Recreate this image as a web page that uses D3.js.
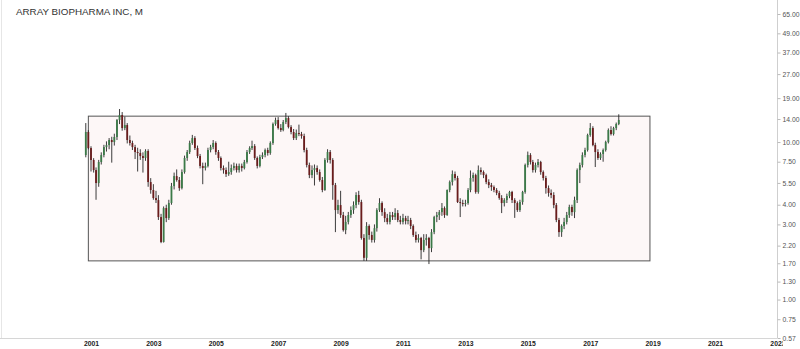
<!DOCTYPE html>
<html lang="en">
<head>
<meta charset="UTF-8" />
<title>ARRAY BIOPHARMA INC, M</title>
<style>
  body { margin: 0; background: #fff; }
  svg text { font-family: "Liberation Sans", Arial, sans-serif; }
</style>
</head>
<body>
<div id="chart"></div>
<script src="https://d3js.org/d3.v7.min.js"></script>
<script>
// monthly bars, the first one is Nov 2000, the last one Dec 2017
var firstMonth = new Date(2000, 10, 1);

var opens = [
  8.27, 11.58,
  9.16, 7.69, 6.64, 5.49, 7.47, 8.27, 9.29, 9.57, 10.30, 10.00, 10.76, 13.80,
  14.84, 12.27, 12.82, 10.30, 9.86, 9.29, 8.64, 8.52, 8.15, 7.92, 8.77, 5.57,
  4.96, 4.41, 4.28, 3.34, 2.32, 3.81, 3.29, 4.10, 5.25, 6.08, 5.74, 5.10,
  6.45, 7.92, 8.64, 9.86, 10.60, 9.16, 8.15, 7.05, 6.84, 7.05, 8.90, 9.29,
  9.86, 8.64, 7.92, 6.84, 6.64, 6.26, 6.45, 6.84, 7.05, 6.64, 7.05, 6.84,
  7.47, 8.64, 9.16, 9.43, 7.92, 7.05, 8.03, 8.27, 8.90, 8.52, 9.86, 13.02,
  13.80, 12.27, 11.92, 13.40, 14.20, 12.45, 11.58, 10.60, 11.41, 11.24, 10.92, 8.90,
  7.15, 6.17, 6.64, 6.84, 6.45, 5.74, 4.96, 7.69, 8.64, 7.69, 5.33, 3.70,
  3.98, 3.44, 2.76, 3.11, 3.44, 3.70, 3.98, 4.61, 4.16, 2.46, 1.84, 2.93,
  2.57, 2.39, 2.84, 3.70, 4.10, 3.59, 3.29, 3.11, 3.44, 3.34, 3.54, 3.20,
  3.11, 3.29, 3.15, 3.20, 2.93, 2.57, 2.39, 2.46, 2.06, 2.39, 2.46, 2.12,
  2.68, 3.34, 3.44, 3.59, 3.81, 3.44, 4.96, 5.57, 6.26, 5.91, 4.16, 4.10,
  4.04, 4.10, 4.96, 5.91, 6.17, 4.82, 6.64, 6.45, 6.17, 5.57, 5.33, 5.18,
  4.96, 4.75, 4.41, 4.10, 4.28, 4.54, 4.82, 4.28, 4.10, 3.70, 4.16, 4.82,
  7.15, 8.27, 7.47, 6.64, 7.15, 7.47, 6.45, 5.91, 5.10, 4.75, 4.61, 3.98,
  3.20, 2.68, 2.93, 3.11, 3.44, 3.87, 3.59, 4.28, 6.64, 7.15, 8.27, 8.90,
  11.08, 12.27, 9.57, 8.64, 7.92, 8.39, 8.90, 10.00, 11.92, 11.24, 12.27, 13.02
];

var highs = [
  13.2, 11.9,
  9.4, 7.9, 6.9, 7.7, 8.6, 9.6, 10.1, 10.6, 10.8, 11.3, 14.0, 16.2,
  15.5, 14.5, 13.2, 11.0, 10.2, 9.6, 9.2, 9.0, 8.6, 9.0, 9.0, 5.9,
  5.4, 4.9, 4.6, 3.5, 3.9, 4.0, 4.3, 5.5, 6.4, 6.7, 6.0, 6.7,
  8.2, 8.9, 10.2, 11.1, 10.9, 9.5, 8.4, 7.4, 7.4, 9.2, 9.6, 10.3,
  10.1, 8.9, 8.1, 7.1, 6.9, 7.5, 7.2, 7.4, 7.3, 7.3, 7.3, 7.7,
  8.9, 9.4, 10.2, 9.7, 8.1, 8.3, 8.6, 9.1, 9.2, 10.1, 13.3, 14.3,
  14.4, 13.0, 13.8, 15.3, 14.6, 12.8, 12.1, 12.0, 12.9, 11.6, 11.3, 9.2,
  7.4, 7.1, 7.2, 7.1, 6.7, 6.0, 7.9, 9.0, 8.9, 7.9, 5.5, 4.3,
  4.9, 3.6, 3.4, 3.6, 3.9, 4.2, 4.8, 4.9, 4.3, 2.6, 3.1, 3.0,
  2.7, 3.0, 3.8, 4.4, 4.2, 3.8, 3.5, 3.6, 3.6, 3.8, 3.7, 3.4,
  3.5, 3.4, 3.4, 3.3, 3.0, 2.7, 2.6, 2.5, 2.6, 2.6, 2.5, 2.8,
  3.4, 3.6, 3.7, 4.1, 3.9, 5.0, 5.7, 6.6, 6.5, 6.1, 4.4, 4.3,
  4.3, 5.1, 6.6, 6.4, 6.3, 7.1, 6.9, 6.6, 6.3, 5.8, 5.5, 5.3,
  5.1, 4.9, 4.6, 4.4, 4.7, 4.9, 4.9, 4.4, 4.2, 4.3, 4.9, 7.3,
  8.7, 8.5, 7.7, 7.4, 7.8, 7.6, 6.6, 6.1, 5.3, 5.0, 4.8, 4.1,
  3.3, 3.0, 3.3, 3.6, 4.0, 4.0, 4.5, 6.8, 7.4, 8.6, 9.2, 11.3,
  13.2, 12.6, 9.9, 9.0, 8.6, 9.1, 10.2, 12.2, 12.6, 12.5, 13.3, 15.0
];

var lows = [
  8.0, 9.0,
  6.5, 6.4, 4.3, 5.2, 7.2, 8.0, 8.7, 9.0, 7.4, 9.5, 10.3, 13.0,
  11.8, 11.9, 9.8, 9.5, 8.9, 7.8, 6.5, 7.7, 6.4, 7.6, 5.2, 4.7,
  4.3, 4.1, 3.2, 2.28, 2.3, 3.1, 3.2, 4.0, 5.0, 5.6, 4.9, 5.0,
  6.3, 7.6, 8.4, 9.6, 8.9, 7.9, 6.8, 5.4, 6.6, 6.9, 8.6, 9.0,
  8.3, 7.6, 6.6, 6.3, 6.0, 6.1, 6.2, 6.6, 6.4, 6.4, 6.5, 6.7,
  7.3, 8.4, 8.9, 7.7, 6.8, 6.9, 7.8, 8.0, 8.2, 8.3, 9.6, 12.7,
  12.0, 11.6, 11.7, 13.0, 12.2, 11.2, 10.3, 10.3, 10.9, 10.5, 8.6, 6.9,
  5.9, 5.9, 5.3, 6.2, 5.6, 4.8, 4.9, 7.4, 7.3, 4.3, 2.68, 3.5,
  3.3, 2.7, 2.6, 3.0, 3.3, 3.5, 3.8, 4.0, 2.4, 1.76, 1.76, 2.4,
  2.3, 2.3, 2.7, 3.6, 3.4, 3.1, 3.0, 3.0, 3.2, 3.2, 3.1, 3.0,
  3.0, 3.0, 3.0, 2.8, 2.5, 2.3, 2.3, 1.8, 2.0, 2.2, 1.68, 2.0,
  2.6, 3.1, 3.2, 3.4, 3.3, 3.4, 4.8, 5.3, 5.7, 4.1, 3.34, 3.9,
  3.9, 4.0, 4.8, 5.6, 4.7, 4.7, 6.2, 5.9, 5.4, 5.1, 4.9, 4.8,
  4.6, 4.3, 3.54, 3.9, 4.1, 4.4, 4.1, 3.3, 3.6, 3.6, 4.0, 4.7,
  6.9, 7.2, 6.4, 6.4, 6.9, 6.2, 5.7, 4.7, 4.5, 4.4, 3.8, 3.1,
  2.5, 2.5, 2.8, 3.0, 3.3, 3.4, 3.29, 4.1, 5.49, 6.9, 8.0, 8.7,
  10.8, 9.4, 6.94, 7.7, 7.7, 7.5, 8.7, 9.8, 11.0, 11.0, 11.9, 12.8
];

var closes = [
  11.58, 9.16,
  7.69, 6.64, 5.49, 7.47, 8.27, 9.29, 9.57, 10.30, 10.00, 10.76, 13.80, 14.84,
  12.27, 12.82, 10.30, 9.86, 9.29, 8.64, 8.52, 8.15, 7.92, 8.77, 5.57, 4.96,
  4.41, 4.28, 3.34, 2.32, 3.81, 3.29, 4.10, 5.25, 6.08, 5.74, 5.10, 6.45,
  7.92, 8.64, 9.86, 10.60, 9.16, 8.15, 7.05, 6.84, 7.05, 8.90, 9.29, 9.86,
  8.64, 7.92, 6.84, 6.64, 6.26, 6.45, 6.84, 7.05, 6.64, 7.05, 6.84, 7.47,
  8.64, 9.16, 9.43, 7.92, 7.05, 8.03, 8.27, 8.90, 8.52, 9.86, 13.02, 13.80,
  12.27, 11.92, 13.40, 14.20, 12.45, 11.58, 10.60, 11.41, 11.24, 10.92, 8.90, 7.15,
  6.17, 6.64, 6.84, 6.45, 5.74, 4.96, 7.69, 8.64, 7.69, 5.33, 3.70, 3.98,
  3.44, 2.76, 3.11, 3.44, 3.70, 3.98, 4.61, 4.16, 2.46, 1.84, 2.93, 2.57,
  2.39, 2.84, 3.70, 4.10, 3.59, 3.29, 3.11, 3.44, 3.34, 3.54, 3.20, 3.11,
  3.29, 3.15, 3.20, 2.93, 2.57, 2.39, 2.46, 2.06, 2.39, 2.46, 2.12, 2.68,
  3.34, 3.44, 3.59, 3.81, 3.44, 4.96, 5.57, 6.26, 5.91, 4.16, 4.10, 4.04,
  4.10, 4.96, 5.91, 6.17, 4.82, 6.64, 6.45, 6.17, 5.57, 5.33, 5.18, 4.96,
  4.75, 4.41, 4.10, 4.28, 4.54, 4.82, 4.28, 4.10, 3.70, 4.16, 4.82, 7.15,
  8.27, 7.47, 6.64, 7.15, 7.47, 6.45, 5.91, 5.10, 4.75, 4.61, 3.98, 3.20,
  2.68, 2.93, 3.11, 3.44, 3.87, 3.59, 4.28, 6.64, 7.15, 8.27, 8.90, 11.08,
  12.27, 9.57, 8.64, 7.92, 8.39, 8.90, 10.00, 11.92, 11.24, 12.27, 13.02, 13.80
];

// right axis labels and the years along the bottom
var priceTicks = [0.57, 0.75, 1.00, 1.30, 1.70, 2.20, 3.00, 4.00, 5.50, 7.50, 10.00, 14.00, 19.00, 27.00, 37.00, 49.00, 65.00];
var yearTicks = [2001, 2003, 2005, 2007, 2009, 2011, 2013, 2015, 2017, 2019, 2021, 2023];

// the base rectangle drawn over the chart
var boxDates = [new Date(2000, 11, 1), new Date(2018, 11, 1)];
var boxPrices = [1.76, 14.6];

var W = 800, H = 349;
var axisX = 777, plotBottom = 338;

var svg = d3.select("#chart").append("svg")
    .attr("width", W)
    .attr("height", H);

var x = d3.scaleTime()
    .domain([new Date(2001, 0, 1), new Date(2019, 0, 1)])
    .range([91, 652.6]);

var y = d3.scaleLog()
    .domain([0.57, 65])
    .range([plotBottom, 14]);

var months = d3.timeMonth.range(firstMonth, d3.timeMonth.offset(firstMonth, closes.length));
var bars = months.map(function(d, i) {
  return {date: d, o: opens[i], h: highs[i], l: lows[i], c: closes[i]};
});

// frame lines
svg.append("line")
    .attr("x1", 1.5).attr("x2", 1.5)
    .attr("y1", 0).attr("y2", plotBottom)
    .attr("stroke", "#e6e6e6");
svg.append("line")
    .attr("x1", 0).attr("x2", axisX)
    .attr("y1", plotBottom + 0.5).attr("y2", plotBottom + 0.5)
    .attr("stroke", "#d6d6d6");
svg.append("line")
    .attr("x1", axisX + 0.5).attr("x2", axisX + 0.5)
    .attr("y1", 0).attr("y2", plotBottom)
    .attr("stroke", "#cfcfcf");

// rectangle
svg.append("rect")
    .attr("x", x(boxDates[0]))
    .attr("y", y(boxPrices[1]))
    .attr("width", x(boxDates[1]) - x(boxDates[0]))
    .attr("height", y(boxPrices[0]) - y(boxPrices[1]))
    .attr("fill", "#fdf7f7")
    .attr("stroke", "#555")
    .attr("stroke-width", 1);

// candles
var upColor = "#3b7a48", downColor = "#6a1c1c";
var candle = svg.append("g").selectAll("g")
  .data(bars)
  .enter()
  .append("g");

candle.append("line")
    .attr("x1", function(d) { return x(d.date); })
    .attr("x2", function(d) { return x(d.date); })
    .attr("y1", function(d) { return y(d.h); })
    .attr("y2", function(d) { return y(d.l); })
    .attr("stroke", "#262626")
    .attr("stroke-width", 0.9);

candle.append("rect")
    .attr("x", function(d) { return x(d.date) - 0.9; })
    .attr("y", function(d) { return y(Math.max(d.o, d.c)); })
    .attr("width", 1.8)
    .attr("height", function(d) { return Math.max(1, Math.abs(y(d.o) - y(d.c))); })
    .attr("fill", function(d) { return d.c >= d.o ? upColor : downColor; });

// clip regions (the clipped wrappers carry no transform)
var defs = svg.append("defs");
defs.append("clipPath").attr("id", "yclip")
  .append("rect").attr("x", axisX).attr("y", 0).attr("width", W - axisX).attr("height", 341);
defs.append("clipPath").attr("id", "xclip")
  .append("rect").attr("x", 0).attr("y", plotBottom + 1).attr("width", 783).attr("height", H - plotBottom);

// right price axis
var yAxis = svg.append("g")
    .attr("clip-path", "url(#yclip)")
  .append("g")
    .attr("transform", "translate(" + (axisX + 0.5) + ",0)")
    .call(d3.axisRight(y)
      .tickValues(priceTicks)
      .tickFormat(d3.format(".2f"))
      .tickSize(3)
      .tickPadding(2));
yAxis.select(".domain").remove();
yAxis.selectAll(".tick line").attr("stroke", "#bbb");
yAxis.selectAll("text")
    .attr("fill", "#555")
    .style("font-size", "6.8px");

// bottom year labels
var xAxis = svg.append("g")
    .attr("clip-path", "url(#xclip)")
  .append("g")
    .attr("transform", "translate(0," + plotBottom + ")")
    .call(d3.axisBottom(x)
      .tickValues(yearTicks.map(function(v) { return new Date(v, 0, 1); }))
      .tickFormat(d3.timeFormat("%Y"))
      .tickSize(0)
      .tickPadding(3.5));
xAxis.select(".domain").remove();
xAxis.selectAll("text")
    .attr("fill", "#222")
    .style("font-size", "6.8px")
    .style("font-weight", "bold");

// title
svg.append("text")
    .attr("x", 16)
    .attr("y", 14.5)
    .attr("fill", "#333")
    .style("font-size", "9.8px")
    .text("ARRAY BIOPHARMA INC, M");
</script>
</body>
</html>
